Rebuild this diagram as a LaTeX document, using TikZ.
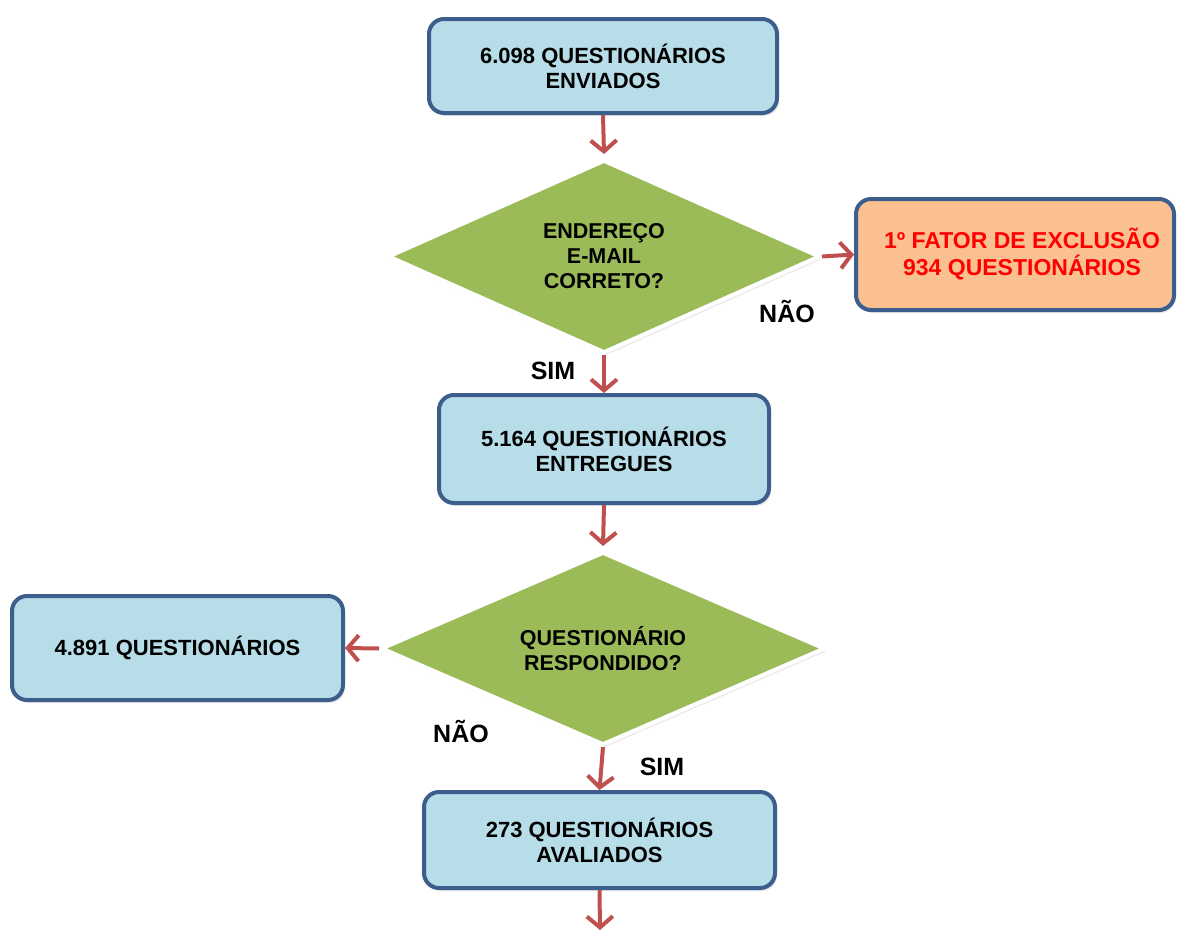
\documentclass[tikz,border=0pt]{standalone}
\usepackage{fontspec}
\setmainfont{Liberation Sans}
\usetikzlibrary{shapes.geometric,arrows.meta,shadows}

\definecolor{boxfill}{HTML}{B7DEE8}
\definecolor{boxline}{HTML}{3B5E8C}
\definecolor{decfill}{HTML}{9BBB59}
\definecolor{exclfill}{HTML}{FAC08F}
\definecolor{arrowred}{HTML}{C0504D}
\definecolor{excltext}{HTML}{FF0000}

\tikzset{
  stepbox/.style={draw=boxline, line width=4pt, fill=boxfill, rounded corners=15pt,
    align=center, inner sep=0pt,
    font=\bfseries\fontsize{22}{25}\selectfont,
    drop shadow={opacity=0.18, shadow xshift=2pt, shadow yshift=-3pt}},
  exclbox/.style={stepbox, fill=exclfill, text=excltext,
    font=\bfseries\fontsize{23}{27}\selectfont},
  decision/.style={diamond, draw=white, line width=4pt, fill=decfill, aspect=2.3,
    inner sep=0pt, align=center,
    font=\bfseries\fontsize{21.5}{25}\selectfont,
    drop shadow={opacity=0.15, shadow xshift=2pt, shadow yshift=-3pt}},
  flow/.style={draw=arrowred, line width=4pt,
    -{Straight Barb[length=11pt,width=26pt,line width=4pt]}},
  answer/.style={font=\bfseries\fontsize{25}{28}\selectfont}
}

\begin{document}
\begin{tikzpicture}[x=1pt,y=-1pt]
  \useasboundingbox (0,0) rectangle (1178,932);

  % process boxes
  \node[stepbox, minimum width=348pt, minimum height=94pt] (sent) at (603,66)
    {6.098 QUESTIONÁRIOS\\ENVIADOS};
  \node[stepbox, minimum width=330pt, minimum height=108pt] (delivered) at (604,449)
    {5.164 QUESTIONÁRIOS\\ENTREGUES};
  \node[stepbox, minimum width=331pt, minimum height=104pt] (unanswered) at (177.5,648)
    {4.891 QUESTIONÁRIOS};
  \node[stepbox, minimum width=351pt, minimum height=96pt] (evaluated) at (599.5,840)
    {273 QUESTIONÁRIOS\\AVALIADOS};
  \node[exclbox, minimum width=318pt, minimum height=111pt] (excluded) at (1015,254.5)
    {\hspace*{14pt}1º FATOR DE EXCLUSÃO\\\hspace*{14pt}934 QUESTIONÁRIOS};

  % decisions
  \node[decision, minimum width=432pt, minimum height=193pt] (email) at (604,256.5)
    {ENDEREÇO\\E-MAIL\\CORRETO?};
  \node[decision, minimum width=444pt, minimum height=193pt] (answered) at (603,648.5)
    {QUESTIONÁRIO\\RESPONDIDO?};

  \coordinate (next) at (600,930);

  % connectors
  \draw[flow] (sent.south) -- ([yshift=4pt]email.north);
  \draw[flow] (email.east) -- (excluded.west);
  \draw[flow] (email.south) -- (delivered.north);
  \draw[flow] (delivered.south) -- ([yshift=4pt]answered.north);
  \draw[flow] (answered.west) -- (unanswered.east);
  \draw[flow] (answered.south) -- (evaluated.north);
  \draw[flow] (evaluated.south) -- (next);

  % branch labels
  \node[answer] (no1) at (787,311) {NÃO};
  \node[answer] (yes1) at (553,371) {SIM};
  \node[answer] (no2) at (461,731) {NÃO};
  \node[answer] (yes2) at (662,767) {SIM};
\end{tikzpicture}
\end{document}
